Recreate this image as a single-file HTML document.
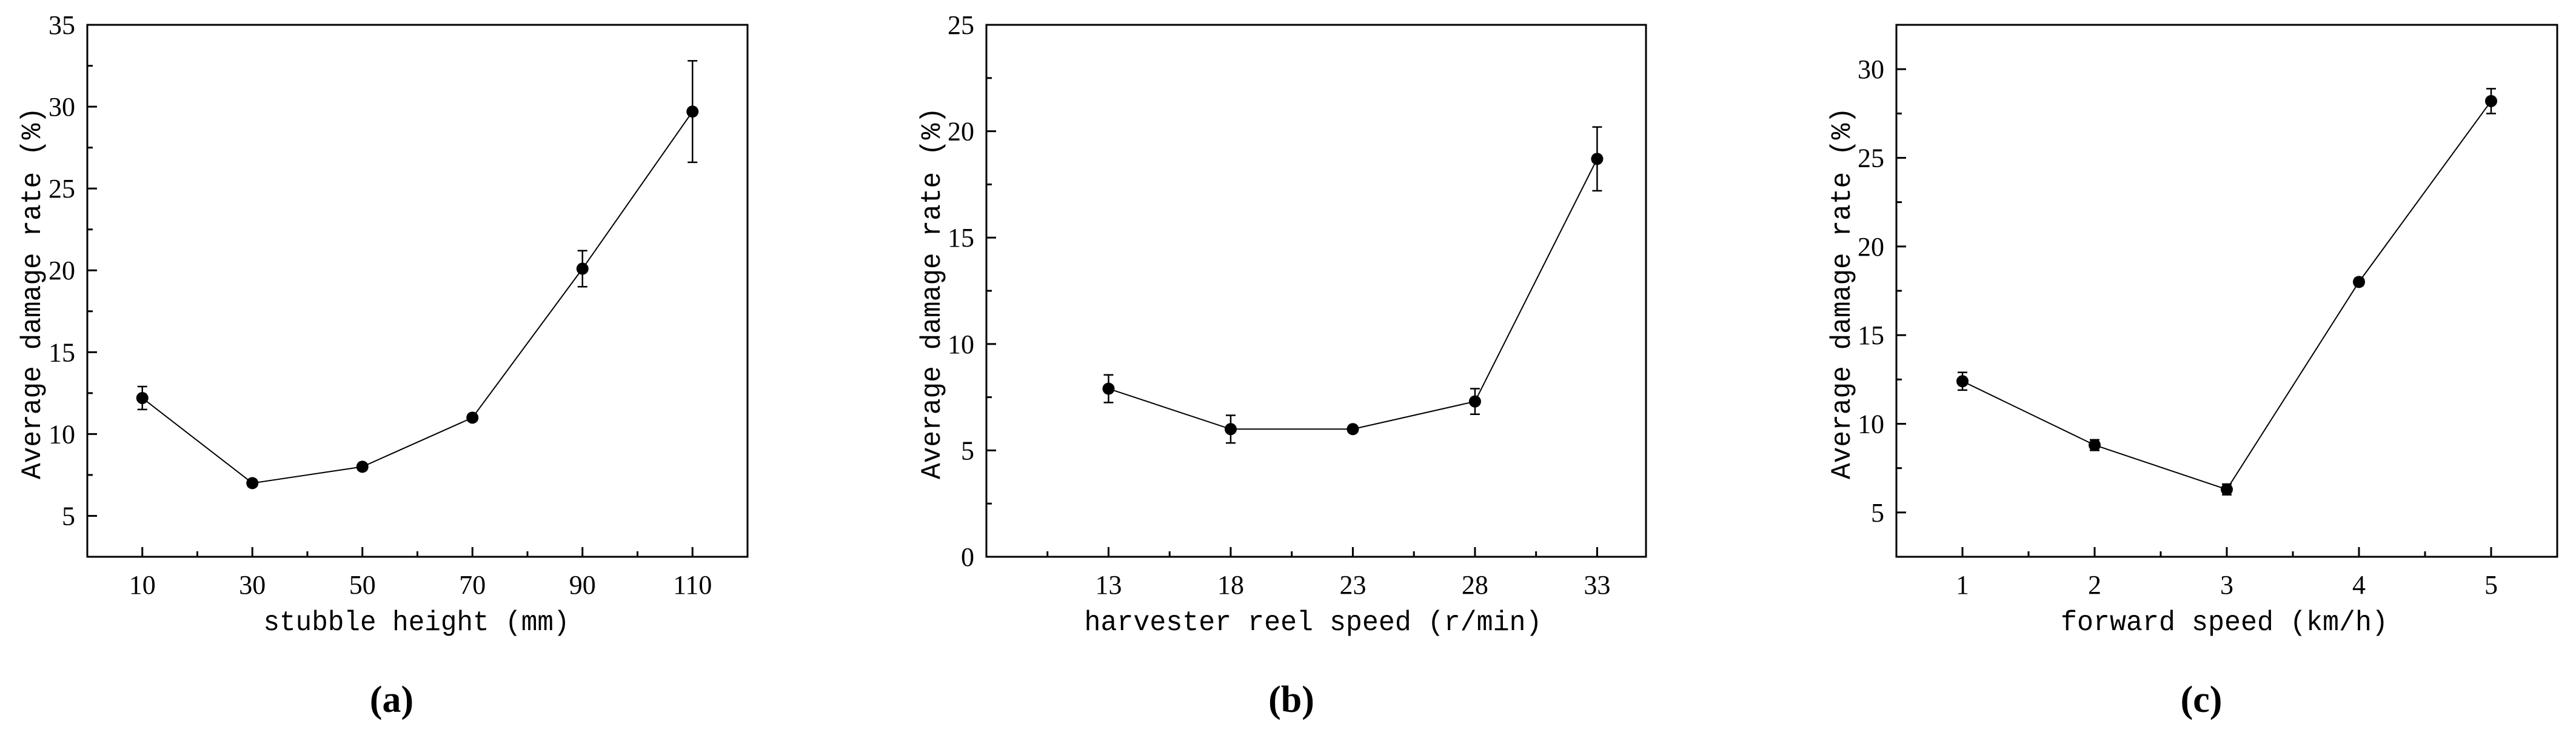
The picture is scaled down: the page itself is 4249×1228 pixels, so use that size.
<!DOCTYPE html>
<html><head><meta charset="utf-8">
<style>
html,body{margin:0;padding:0;background:#fff;}
svg{display:block;}
.tick{font-family:"Liberation Serif",serif;font-size:44px;fill:#000;}
.axl{font-family:"Liberation Mono",monospace;font-size:46px;fill:#000;}
.pl{font-family:"Liberation Serif",serif;font-size:62px;font-weight:bold;fill:#000;}
</style></head>
<body>
<svg id="fig" width="4249" height="1228" viewBox="0 0 4249 1228" xmlns="http://www.w3.org/2000/svg"></svg>
<script>
// Panel (a)
const aCategories = [10, 30, 50, 70, 90, 110];
const aValues = [12.2, 7.0, 8.0, 11.0, 20.1, 29.7];
const aErrors = [0.7, 0.2, 0.2, 0.2, 1.1, 3.1];
const aYTicks = [5, 10, 15, 20, 25, 30, 35];
// Panel (b)
const bCategories = [13, 18, 23, 28, 33];
const bValues = [7.9, 6.0, 6.0, 7.3, 18.7];
const bErrors = [0.65, 0.65, 0.15, 0.6, 1.5];
const bYTicks = [0, 5, 10, 15, 20, 25];
// Panel (c)
const cCategories = [1, 2, 3, 4, 5];
const cValues = [12.4, 8.8, 6.3, 18.0, 28.2];
const cErrors = [0.5, 0.3, 0.3, 0.2, 0.7];
const cYTicks = [5, 10, 15, 20, 25, 30];

const NS = "http://www.w3.org/2000/svg";
const svg = document.getElementById('fig');
function mk(tag, attrs, parent){
  const e = document.createElementNS(NS, tag);
  for (const k in attrs) e.setAttribute(k, attrs[k]);
  (parent||svg).appendChild(e);
  return e;
}

function panel(cfg){
  const g = mk('g', {});
  
  
  const L=cfg.left, R=cfg.right, T=41, B=919;
  const sx = v => L + (v - cfg.xmin) / (cfg.xmax - cfg.xmin) * (R - L);
  const sy = v => B - (v - cfg.ymin) / (cfg.ymax - cfg.ymin) * (B - T);
  const fr = mk('rect', {x:L, y:T, width:R-L, height:B-T, fill:'none', stroke:'#000', 'stroke-width':3}, g);
  
  
  cfg.yTicks.forEach((v,i) => {
    const y = sy(v);
    mk('line', {x1:L, x2:L+16, y1:y, y2:y, stroke:'#000', 'stroke-width':3}, g);
    const t = mk('text', {x:L-20, y:y+15, 'text-anchor':'end', class:'tick'}, g);
    t.textContent = v;
    
    
    const m = v + cfg.yStep/2;
    if (m < cfg.ymax) { const ym = sy(m); mk('line', {x1:L, x2:L+9, y1:ym, y2:ym, stroke:'#000', 'stroke-width':3}, g); }
    if (i===0 && v - cfg.yStep/2 > cfg.ymin) { const ym = sy(v - cfg.yStep/2); mk('line', {x1:L, x2:L+9, y1:ym, y2:ym, stroke:'#000', 'stroke-width':3}, g); }
  });
  cfg.cats.forEach((v,i) => {
    const x = sx(v);
    mk('line', {x1:x, x2:x, y1:B, y2:B-16, stroke:'#000', 'stroke-width':3}, g);
    const t = mk('text', {x:x, y:B+61, 'text-anchor':'middle', class:'tick'}, g);
    t.textContent = v;
    
    
  });
  cfg.xMinor.forEach(v => {
    const x = sx(v);
    mk('line', {x1:x, x2:x, y1:B, y2:B-9, stroke:'#000', 'stroke-width':3}, g);
  });
  const pts = cfg.cats.map((c,i) => sx(c)+','+sy(cfg.vals[i])).join(' ');
  const pl = mk('polyline', {points:pts, fill:'none', stroke:'#000', 'stroke-width':2}, g);
  
  
  cfg.cats.forEach((c,i) => {
    const x = sx(c), y1 = sy(cfg.vals[i]-cfg.errs[i]), y2 = sy(cfg.vals[i]+cfg.errs[i]);
    const eb = mk('path', {d:`M${x},${y1}V${y2}M${x-8},${y1}H${x+8}M${x-8},${y2}H${x+8}`, stroke:'#000', 'stroke-width':2.5, fill:'none'}, g);
    
    
    const p = mk('circle', {cx:x, cy:sy(cfg.vals[i]), r:10, fill:'#000'}, g);
    
    
  });
  const xt = mk('text', {x:cfg.xLabelX, y:1040, 'text-anchor':'middle', class:'axl', textLength:cfg.xLabelW, lengthAdjust:'spacingAndGlyphs'}, g);
  xt.textContent = cfg.xLabel;
  
  
  const yt = mk('text', {x:0, y:0, 'text-anchor':'middle', class:'axl', textLength:614, lengthAdjust:'spacingAndGlyphs', transform:`translate(${cfg.yLabelX+16},484) rotate(-90)`}, g);
  yt.textContent = 'Average damage rate (%)';
  
  
  const pt = mk('text', {x:cfg.panelX, y:1175, 'text-anchor':'middle', class:'pl'}, g);
  pt.textContent = cfg.panel;
  
  
}

panel({name:'chart-a', left:144, right:1233, xmin:0, xmax:120, ymin:2.5, ymax:35, yStep:5,
  cats:aCategories, vals:aValues, errs:aErrors, yTicks:aYTicks, xMinor:[20,40,60,80,100],
  xLabel:'stubble height (mm)', xLabelX:687, xLabelW:505, yLabelX:50, panel:'(a)', panelX:646});
panel({name:'chart-b', left:1627, right:2715, xmin:8, xmax:35, ymin:0, ymax:25, yStep:5,
  cats:bCategories, vals:bValues, errs:bErrors, yTicks:bYTicks, xMinor:[10.5,15.5,20.5,25.5,30.5],
  xLabel:'harvester reel speed (r/min)', xLabelX:2166, xLabelW:755, yLabelX:1534, panel:'(b)', panelX:2130});
panel({name:'chart-c', left:3128, right:4218, xmin:0.5, xmax:5.5, ymin:2.5, ymax:32.5, yStep:5,
  cats:cCategories, vals:cValues, errs:cErrors, yTicks:cYTicks, xMinor:[1.5,2.5,3.5,4.5],
  xLabel:'forward speed (km/h)', xLabelX:3669, xLabelW:540, yLabelX:3035, panel:'(c)', panelX:3631});
</script>
</body></html>
